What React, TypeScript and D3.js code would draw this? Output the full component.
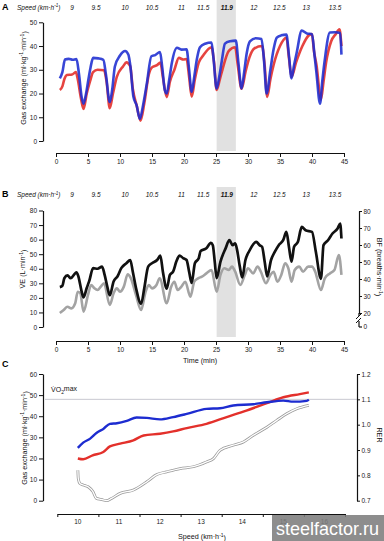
import React, { useEffect, useRef } from 'react'
import * as d3 from 'd3'

const font = '"Liberation Sans", Arial, sans-serif'

// speed stages shown above panels A and B (label, stage middle in minutes)
const speedLabels = ['9', '9.5', '10', '10.5', '11', '11.5', '11.9', '12', '12.5', '13', '13.5']
const speedMidTimes = [2.5, 6.25, 10.8, 15.0, 19.6, 23.0, 26.7, 30.9, 34.9, 39.1, 43.6]
const highlightStage = [25.1, 28.1]

// panel A: gas exchange vs time (min)
const vo2Time = [
	[0.6, 26.4], [1.0, 29], [1.4, 34.3], [2.0, 34.6], [2.6, 34.2], [3.2, 34.5], [3.6, 28], [4.0, 18.6], [4.3, 15.7],
	[4.7, 20], [5.05, 25.7], [5.4, 31], [5.8, 35], [6.6, 34.8], [7.4, 34.2], [7.8, 28], [8.4, 16.4],
	[8.8, 22], [9.2, 31.4], [10, 36], [10.8, 37.9], [11.3, 36.4], [11.6, 32], [12.1, 18.6], [12.6, 15], [13.1, 9.3],
	[13.6, 15], [14.2, 24.3], [14.9, 35.7], [15.5, 36.2], [16.25, 37.5], [16.6, 31], [17.0, 21.4], [17.3, 20],
	[17.7, 26], [18.1, 32.9], [18.9, 39.3], [19.6, 38.5], [20.4, 38.6], [20.8, 30], [21.2, 20.7],
	[21.6, 27], [22.0, 34.3], [22.5, 39.5], [23.3, 41], [24.3, 41.5], [24.6, 35], [25.1, 22.1],
	[25.5, 27], [25.9, 33.6], [26.4, 41], [27.2, 42], [28.1, 42.3], [28.5, 33], [29.0, 22.1],
	[29.4, 29], [29.8, 37], [30.3, 42], [31.2, 43.3], [32.1, 43], [32.5, 34], [32.9, 20],
	[33.5, 30], [34.0, 38.6], [34.5, 43.5], [35.2, 44.5], [36.0, 44.8], [36.4, 36], [36.8, 26.4],
	[37.2, 32], [37.6, 37.1], [38.4, 46.5], [39.2, 45.3], [40.0, 45], [40.4, 36], [40.7, 28.6], [41.25, 15.7],
	[41.6, 25], [42.0, 34.3], [42.8, 45.7], [43.6, 45.8], [44.4, 45.5], [44.6, 36.4],
]
const vco2Time = [
	[0.6, 21.5], [1.0, 23], [1.3, 26], [1.7, 27.8], [2.5, 28], [3.1, 29], [3.4, 26], [3.9, 18], [4.3, 13.5],
	[4.8, 20], [5.3, 25], [5.8, 29], [6.5, 30], [7.5, 29.8], [7.9, 25], [8.4, 13.8],
	[8.9, 20], [9.5, 27], [10.5, 31.5], [11.0, 33.1], [11.6, 31.5], [12.0, 22], [12.6, 15], [13.2, 8.6],
	[13.8, 16], [14.5, 28], [15.0, 31], [15.8, 32], [16.3, 33], [16.7, 27], [17.3, 18.5],
	[17.8, 25], [18.5, 30], [19.2, 35], [19.9, 34.3], [20.4, 34.5], [20.8, 27], [21.2, 18.7],
	[21.7, 26], [22.3, 33], [23.0, 36], [24.3, 39.5], [24.7, 33], [25.1, 21.5],
	[25.6, 26], [26.0, 30], [27.0, 38], [28.0, 39.5], [28.4, 32], [29.0, 22],
	[29.6, 29], [30.2, 35], [31.0, 39], [32.2, 40], [32.6, 32], [33.0, 18.6],
	[33.5, 26], [34.0, 32], [35.0, 40], [36.0, 43.5], [36.4, 35], [36.8, 27],
	[37.5, 33], [38.5, 40], [39.5, 44.5], [40.0, 45], [40.3, 38], [40.7, 32], [41.4, 17.5],
	[41.8, 25], [42.2, 33], [43.0, 42], [43.7, 45], [44.3, 47], [44.6, 40],
]

// panel B: ventilation (L/min) and breathing frequency (breaths/min)
const veTime = [
	[0.6, 27.4], [1.0, 28.3], [1.3, 33.5], [1.8, 35.4], [2.3, 33.5], [2.8, 35.8], [3.2, 37.6], [3.5, 34.7], [4.0, 24.5], [4.3, 20.4],
	[4.8, 26.8], [5.2, 31.7], [5.8, 40.4], [6.5, 40], [7.2, 41.5], [7.6, 35.8], [8.0, 28], [8.4, 21.8],
	[9.0, 31.3], [9.6, 34.7], [10.2, 40.4], [11.0, 43.8], [11.6, 46], [12.0, 38], [12.5, 26.8], [13.3, 15.9],
	[13.8, 26.8], [14.4, 41.5], [15.0, 43.8], [15.8, 46], [16.3, 49], [16.7, 38], [17.3, 26.3],
	[17.8, 35.8], [18.3, 38], [18.8, 44.9], [19.3, 49], [19.9, 47.2], [20.4, 46], [20.8, 38], [21.2, 30.2],
	[21.7, 43.8], [22.3, 47.2], [22.6, 52.2], [23.5, 54], [24.2, 57.8], [24.5, 56.2], [24.8, 45], [25.1, 33.6],
	[25.7, 44.9], [26.5, 54], [27.1, 59.6], [27.6, 56.2], [28.0, 57.4], [28.3, 52.8], [28.7, 42], [29.1, 34],
	[29.6, 46], [30.2, 52.2], [31.3, 58.5], [31.8, 56.2], [32.2, 55.1], [32.6, 45], [33.0, 34.7],
	[33.6, 46], [34.2, 51.7], [34.8, 56.2], [35.5, 59.6], [36.0, 65.3], [36.4, 55], [36.8, 44.9],
	[37.2, 55.1], [37.8, 58.5], [38.4, 68.7], [39.0, 66.4], [40.0, 65.3], [40.6, 51.7], [41.4, 33.1],
	[41.8, 56.2], [42.5, 59.6], [43.2, 64.2], [44.0, 67.6], [44.4, 71], [44.6, 60.8],
]
const bfTime = [
	[0.6, 20], [1.2, 21.8], [1.8, 23.7], [2.4, 22.7], [3.0, 25.7], [3.4, 32.5], [3.8, 31.6], [4.3, 20.8],
	[5.0, 30.6], [5.5, 36.5], [6.0, 34.5], [6.5, 33.5], [7.0, 35.5], [7.5, 37.5], [8.4, 24.7],
	[9.0, 31.6], [9.5, 34.5], [10.0, 32.5], [10.6, 35.5], [11.2, 42.7], [11.7, 40.4], [12.5, 30.6], [13.3, 21.8],
	[14.0, 32.5], [14.5, 36.5], [15.0, 34.5], [15.7, 36.5], [16.2, 40.4], [17.3, 25.7],
	[18.0, 35.5], [18.5, 38.4], [19.0, 33.5], [19.6, 35.5], [20.2, 38.4], [21.0, 29.6],
	[21.6, 38.4], [22.2, 40.4], [22.8, 41.4], [23.5, 43.3], [24.3, 45.3], [25.1, 32.5],
	[25.7, 42.4], [26.3, 46.3], [27.0, 45.3], [27.5, 47.3], [28.0, 44.3], [28.8, 36.5],
	[29.5, 42.4], [30.0, 46.3], [30.8, 43.3], [31.5, 47.3], [32.0, 44.3], [32.8, 37.5],
	[33.5, 42.4], [34.0, 44.3], [34.6, 38.4], [35.2, 42.4], [35.8, 49.2], [36.3, 46.3], [36.8, 38.4],
	[37.3, 45.3], [38.0, 47.3], [38.6, 44.3], [39.4, 47.3], [40.0, 47.3], [40.5, 44.3], [41.4, 33.5],
	[42.0, 40.4], [42.8, 43.3], [43.5, 45.3], [44.2, 54.1], [44.6, 42.4],
]

// panel C: gas exchange and RER vs speed (km/h)
const vo2Speed = [
	[10.0, 25], [10.13, 27.5], [10.3, 29.4], [10.46, 32.2], [10.62, 34], [10.78, 36.4], [10.95, 36.7], [11.19, 37.8],
	[11.43, 39.4], [11.68, 39.2], [12.0, 38.5], [12.32, 39.6], [12.65, 41.1], [13.13, 43.5], [13.46, 43.8],
	[13.78, 45.1], [14.27, 45.7], [14.6, 46.6], [15.0, 47.4], [15.24, 46.9], [15.57, 47.3], [15.62, 47.9],
]
const vco2Speed = [
	[10.0, 20], [10.13, 19.6], [10.36, 21.5], [10.62, 23.1], [10.78, 25.7], [11.03, 27], [11.35, 28.6], [11.6, 30.9],
	[12.0, 31.7], [12.32, 32.8], [12.65, 34.4], [13.13, 36.4], [13.62, 39.6], [14.1, 42.7], [14.6, 46.2],
	[15.0, 49], [15.4, 50.5], [15.62, 51.3],
]
const rerSpeed = [
	[10.0, 0.82], [10.01, 0.788], [10.05, 0.768], [10.13, 0.762], [10.25, 0.755], [10.37, 0.735], [10.45, 0.709],
	[10.57, 0.705], [10.7, 0.7], [10.82, 0.709], [11.03, 0.729], [11.35, 0.742], [11.68, 0.775], [11.92, 0.803],
	[12.16, 0.814], [12.49, 0.827], [12.81, 0.834], [13.13, 0.853], [13.3, 0.866], [13.46, 0.899], [13.78, 0.919],
	[14.03, 0.932], [14.27, 0.958], [14.6, 0.99], [14.84, 1.017], [15.08, 1.043], [15.33, 1.063], [15.62, 1.076],
]
const vo2max = 48

const timeTicks = d3.range(0, 46, 5)
const speedTicks = d3.range(9.5, 16.6, 1)
const speedTickLabels = d3.range(10, 17, 1)

const BLUE = '#1d2cd0'
const RED = '#e3302b'

const Axis = ({ axis, transform }: { axis: any; transform: string }) => {
	const ref = useRef<SVGGElement>(null)

	useEffect(() => {
		if (ref.current) {
			const g = d3.select(ref.current).call(axis)
			g.attr('font-size', 6.5).attr('font-family', font)
			g.selectAll('line').attr('stroke', '#111')
			g.select('.domain').attr('stroke', '#111').attr('stroke-width', 1.2)
			g.selectAll('text').attr('fill', '#222')
		}
	}, [axis])

	return <g ref={ref} transform={transform} />
}

const SpeedRow = ({ x, y }: { x: any; y: number }) => (
	<g fontFamily={font} fontSize={6.5} fontStyle="italic" fill="#111">
		<text x={17} y={y}>Speed (km·h<tspan fontSize={4.5} dy={-2.5}>-1</tspan><tspan dy={2.5}>)</tspan></text>
		{speedLabels.map((s, i) => (
			<text key={s} x={x(speedMidTimes[i])} y={y} textAnchor="middle" fontWeight={s === '11.9' ? 'bold' : 'normal'}>{s}</text>
		))}
	</g>
)

const App = () => {
	// panel A scales
	const xA = d3.scaleLinear().domain([0, 45]).range([56, 344])
	const yA = d3.scaleLinear().domain([0, 50]).range([141, 22.3])
	// panel B scales
	const xB = d3.scaleLinear().domain([0, 45]).range([56, 344])
	const yB = d3.scaleLinear().domain([0, 80]).range([327, 210.5])
	const yBr = d3.scaleLinear().domain([20, 80]).range([313, 211])
	// panel C scales
	const xC = d3.scaleLinear().domain([9.5, 16.5]).range([57.3, 345])
	const yC = d3.scaleLinear().domain([0, 60]).range([500.7, 374])
	const yCr = d3.scaleLinear().domain([0.7, 1.2]).range([500.7, 374])

	const lineOf = (x: any, y: any) => d3.line<number[]>().x(d => x(d[0])).y(d => y(d[1])).curve(d3.curveMonotoneX)

	const lineA = lineOf(xA, yA)
	const lineVE = lineOf(xB, yB)
	const lineBF = lineOf(xB, yBr)
	const lineC = lineOf(xC, yC)
	const lineRER = lineOf(xC, yCr)

	const sup = (t: string) => <tspan fontSize="0.7em" dy="-0.45em">{t}</tspan>

	return (
		<div style={{ position: 'absolute', left: 0, top: 0 }}>
			<svg width={384} height={541} style={{ display: 'block', background: '#fff' }}>
				{/* ---------- panel A ---------- */}
				<rect x={xA(highlightStage[0])} y={0} width={xA(highlightStage[1]) - xA(highlightStage[0])} height={151} fill="#e1e1e1" />
				<text x={2} y={10} fontFamily={font} fontWeight="bold" fontSize={9}>A</text>
				<SpeedRow x={xA} y={9.5} />
				<Axis axis={d3.axisLeft(yA).tickValues(d3.range(0, 51, 10)).tickSize(4).tickSizeOuter(0).tickPadding(2)} transform="translate(43,0)" />
				<Axis axis={d3.axisBottom(xA).tickValues(timeTicks).tickSize(4).tickSizeOuter(0).tickPadding(2.5)} transform="translate(0,153)" />
				<path d={lineA(vco2Time) || ''} fill="none" stroke={RED} strokeWidth={2.6} strokeOpacity={0.9} />
				<path d={lineA(vo2Time) || ''} fill="none" stroke={BLUE} strokeWidth={2.6} strokeOpacity={0.88} />
				<text transform="translate(25.5,78) rotate(-90)" textAnchor="middle" fontFamily={font} fontSize={7.2} fill="#111">
					Gas exchange (ml·kg{sup('-1')}<tspan dy="0.45em">·min</tspan>{sup('-1')}<tspan dy="0.45em">)</tspan>
				</text>

				{/* ---------- panel B ---------- */}
				<rect x={xB(highlightStage[0])} y={187} width={xB(highlightStage[1]) - xB(highlightStage[0])} height={150} fill="#e1e1e1" />
				<text x={2} y={197} fontFamily={font} fontWeight="bold" fontSize={9}>B</text>
				<SpeedRow x={xB} y={197} />
				<Axis axis={d3.axisLeft(yB).tickValues(d3.range(0, 81, 10)).tickSize(4).tickSizeOuter(0).tickPadding(2)} transform="translate(43,0)" />
				<Axis axis={d3.axisBottom(xB).tickValues(timeTicks).tickSize(4).tickSizeOuter(0).tickPadding(2.5)} transform="translate(0,341)" />
				<Axis axis={d3.axisRight(yBr).tickValues(d3.range(20, 81, 10)).tickSize(3).tickSizeOuter(0).tickPadding(1.5)} transform="translate(359,0)" />
				<g stroke="#111" strokeWidth={1.2}>
					<line x1={359} x2={359} y1={313} y2={316} />
					<line x1={359} x2={359} y1={321} y2={327} />
					<line x1={359} x2={362} y1={327} y2={327} />
					<line x1={356} x2={361} y1={319} y2={314} strokeWidth={1} />
					<line x1={356} x2={361} y1={323} y2={318} strokeWidth={1} />
				</g>
				<text x={363.5} y={329.3} fontFamily={font} fontSize={6.5} fill="#222">0</text>
				<path d={lineBF(bfTime) || ''} fill="none" stroke="#a3a3a3" strokeWidth={2.6} />
				<path d={lineVE(veTime) || ''} fill="none" stroke="#111" strokeWidth={2.7} />
				<text transform="translate(25,269) rotate(-90)" textAnchor="middle" fontFamily={font} fontSize={7.2} fill="#111">
					V̇E (L·min{sup('-1')}<tspan dy="0.45em">)</tspan>
				</text>
				<text transform="translate(377,267) rotate(90)" textAnchor="middle" fontFamily={font} fontSize={7.2} fill="#111">
					BF (breaths·min{sup('-1')}<tspan dy="0.45em">)</tspan>
				</text>
				<text x={200} y={362.5} textAnchor="middle" fontFamily={font} fontSize={7.2} fill="#111">Time (min)</text>

				{/* ---------- panel C ---------- */}
				<text x={2} y={367} fontFamily={font} fontWeight="bold" fontSize={9}>C</text>
				<line x1={45} x2={357} y1={yC(vo2max)} y2={yC(vo2max)} stroke="#b9b9c4" strokeWidth={0.8} />
				<text x={51} y={392} fontFamily={font} fontSize={7} fill="#111">
					V̇O<tspan fontSize="0.7em" dy="0.35em">2</tspan><tspan dy="-0.35em">max</tspan>
				</text>
				<Axis axis={d3.axisLeft(yC).tickValues(d3.range(0, 61, 10)).tickSize(4).tickSizeOuter(0).tickPadding(2)} transform="translate(43,0)" />
				<Axis axis={d3.axisRight(yCr).tickValues(d3.range(0.7, 1.21, 0.1)).tickFormat(d3.format('.1f')).tickSize(3).tickSizeOuter(0).tickPadding(1.5)} transform="translate(357,0)" />
				<Axis axis={d3.axisBottom(xC).tickValues(speedTicks).tickFormat(() => '').tickSize(3).tickSizeOuter(0)} transform="translate(0,514)" />
				<g fontFamily={font} fontSize={6.5} fill="#222">
					{speedTickLabels.map(s => (
						<text key={s} x={xC(s)} y={524} textAnchor="middle">{s}</text>
					))}
				</g>
				<path d={lineRER(rerSpeed) || ''} fill="none" stroke="#9a9a9a" strokeWidth={2.8} />
				<path d={lineRER(rerSpeed) || ''} fill="none" stroke="#fff" strokeWidth={1.3} />
				<path d={lineC(vco2Speed) || ''} fill="none" stroke={RED} strokeWidth={2.4} />
				<path d={lineC(vo2Speed) || ''} fill="none" stroke={BLUE} strokeWidth={2.4} />
				<text transform="translate(26.5,438) rotate(-90)" textAnchor="middle" fontFamily={font} fontSize={7.2} fill="#111">
					Gas exchange (ml·kg{sup('-1')}<tspan dy="0.45em">·min</tspan>{sup('-1')}<tspan dy="0.45em">)</tspan>
				</text>
				<text transform="translate(377,435) rotate(90)" textAnchor="middle" fontFamily={font} fontSize={7.2} fill="#111">RER</text>
				<text x={202} y={539} textAnchor="middle" fontFamily={font} fontSize={7.2} fill="#111">
					Speed (km·h{sup('-1')}<tspan dy="0.45em">)</tspan>
				</text>

				{/* watermark */}
				<rect x={272} y={515} width={112} height={26} fill="#7d7d7d" fillOpacity={0.88} />
				<text x={276} y={535} fontFamily={font} fontSize={19} fill="#fff" textLength={103} lengthAdjust="spacingAndGlyphs">steelfactor.ru</text>
			</svg>
		</div>
	)
}

export default App
